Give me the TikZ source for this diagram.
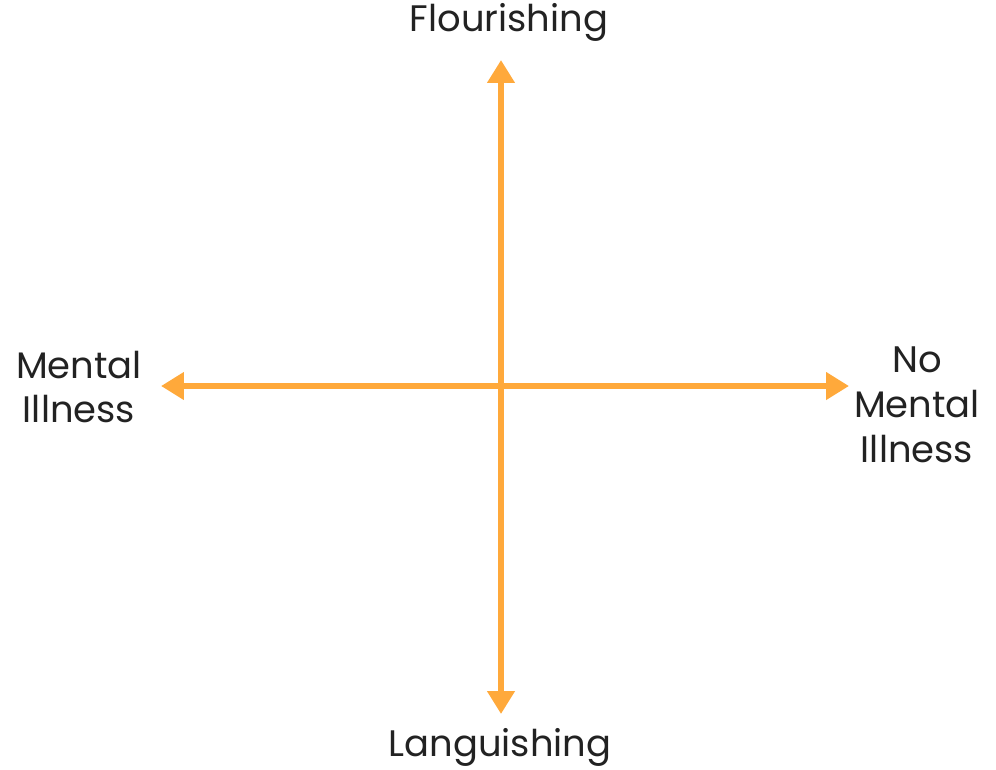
\documentclass[tikz,border=0pt]{standalone}
\usepackage{fontspec}
\setmainfont{Poppins}
\usepackage{xcolor}
\usetikzlibrary{arrows.meta,positioning}
\definecolor{axisorange}{HTML}{FFA93B}
\definecolor{labelgray}{HTML}{222222}

\begin{document}
\begin{tikzpicture}[x=0.02cm,y=-0.02cm,
  lbl/.style={align=center,font=\fontsize{21}{25.5}\selectfont,text=labelgray,inner sep=0pt},
  ax/.style={axisorange,line width=3.9pt,{Triangle[width=15pt,length=13pt]}-{Triangle[width=15pt,length=13pt]}}]
  \useasboundingbox (0,0) rectangle (996,769);
  \coordinate (top) at (501,60);
  \coordinate (bottom) at (501,714);
  \coordinate (left) at (161,386);
  \coordinate (right) at (849,386);
  \node[lbl] (flour) at (509,22) {Flourishing};
  \node[lbl] (langu) at (500,747) {Languishing};
  \node[lbl] (ment) at (79,387) {Mental\\Illness};
  \node[lbl] (nomen) at (917,405) {No\\Mental\\Illness};
  \draw[ax] (bottom) -- (top);
  \draw[ax] (left) -- (right);
\end{tikzpicture}
\end{document}
